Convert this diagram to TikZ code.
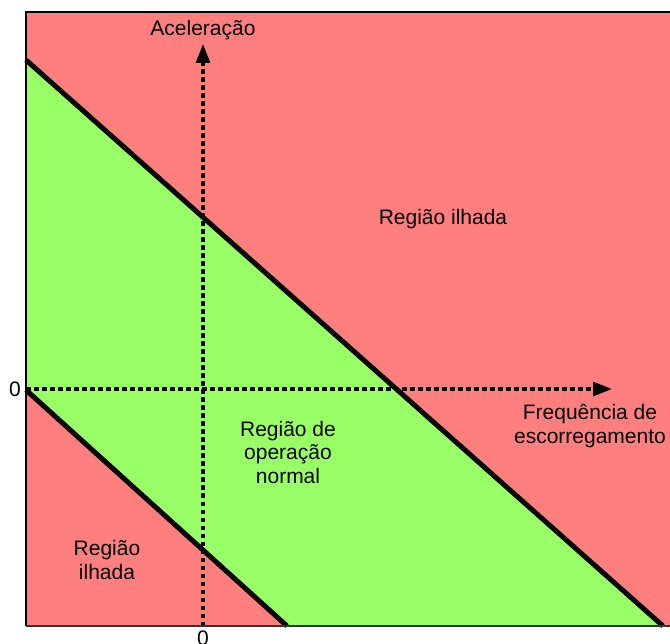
\documentclass[tikz,border=0pt]{standalone}
\usepackage{fontspec}
\setmainfont{Liberation Sans}
\usetikzlibrary{arrows.meta}
\definecolor{redzone}{HTML}{FF7F7F}
\definecolor{greenzone}{HTML}{99FF66}
\begin{document}
\begin{tikzpicture}[x=1pt,y=-1pt,
  axisline/.style={line width=3.2pt,dash pattern=on 4.5pt off 3.5pt,-{Triangle[length=19pt,width=14pt]}},
  boundary/.style={line width=5pt},
  lbl/.style={font=\fontsize{21}{23.5}\selectfont,align=center,inner sep=0pt}]
\useasboundingbox (0,0) rectangle (670,644);
\clip (0,0) rectangle (670,644);
% regions
\fill[redzone] (26,12) rectangle (672,626);
\fill[greenzone] (26,60) -- (663,626) -- (287,626) -- (26,390) -- cycle;
% axes
\coordinate (xorig) at (26,389);
\coordinate (xtip) at (612,389);
\coordinate (yorig) at (203,626);
\coordinate (ytip) at (203,44);
\draw[axisline] (xorig) -- (xtip);
\draw[axisline] (yorig) -- (ytip);
% boundaries
\coordinate (u1) at (26,60);
\coordinate (u2) at (663,626);
\coordinate (l1) at (26,390);
\coordinate (l2) at (287,626);
\draw[boundary] (u1) -- (u2);
\draw[boundary] (l1) -- (l2);
% frame
\draw[line width=2pt] (26,626) -- (26,12) -- (672,12);
\draw[line width=1.5pt,black!80] (26,626) -- (672,626);
% labels
\node[lbl] (acel) at (203,30) {Aceleração};
\node[lbl] (freq) at (590,426) {Frequência de\\escorregamento};
\node[lbl] (zx) at (15,389) {0};
\node[lbl] (zy) at (203,638) {0};
\node[lbl] (ilhasup) at (443,219) {Região ilhada};
\node[lbl] (normal) at (288,452) {Região de\\operação\\normal};
\node[lbl] (ilhainf) at (107,560) {Região\\ilhada};
\end{tikzpicture}
\end{document}
